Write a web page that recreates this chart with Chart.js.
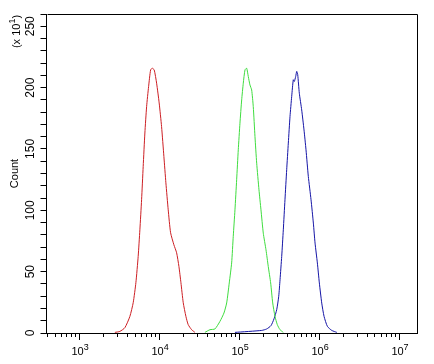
<!DOCTYPE html>
<html>
<head>
<meta charset="utf-8">
<script src="https://cdn.jsdelivr.net/npm/chart.js@4/dist/chart.umd.min.js"></script>
<style>
  html, body { margin: 0; padding: 0; background: #fff; }
  canvas { display: block; }
</style>
</head>
<body>
<canvas id="chart" width="434" height="364"></canvas>
<script>
// fluorescence intensity (x) and count / 10 (y) for each histogram
const redX = [2800, 3230, 3730, 4310, 4745, 5125, 5475, 5750, 6040, 6325, 6640, 6980, 7390, 7830, 8200, 8690, 9310, 10020, 10740, 11480, 12160, 13000, 13930, 15310, 16560, 17700, 18750, 20040, 21640, 23120, 25510, 28070];
const redY = [0.5, 1.3, 4.3, 13.5, 24.7, 41, 62.4, 84.1, 108.6, 135.7, 163, 184.5, 200.8, 214.4, 215.8, 214.4, 203.6, 187.5, 168.2, 143.8, 122.4, 100.4, 81.7, 71.9, 65.4, 54.2, 41, 24.7, 13.5, 6.8, 2.7, 0.5];

const greenX = [37410, 43250, 49900, 57680, 64740, 69980, 75380, 80760, 84580, 88860, 93290, 97740, 102600, 107800, 112900, 118600, 124500, 130400, 136800, 143700, 150500, 158100, 166100, 177400, 187900, 200800, 217100, 231800, 248400, 263400, 281400, 300800, 325100, 357300];
const greenY = [0.5, 2.7, 3.3, 9.5, 16.3, 24.5, 40.8, 57.1, 78.8, 100.4, 124.9, 149.3, 171, 190, 203.6, 214.4, 215.8, 209, 202.2, 198.1, 184.5, 160.1, 138.4, 116.7, 100.4, 81.4, 67.8, 54.2, 40.8, 24.5, 13.5, 6.8, 2.7, 0.5];

const blueX = [88860, 191900, 221500, 250600, 273400, 295600, 313300, 325300, 341400, 357500, 375000, 394000, 413000, 433600, 455100, 476600, 490700, 510700, 525800, 541300, 566900, 607000, 648800, 687200, 734600, 794200, 849100, 891600, 953100, 1009000, 1081000, 1156000, 1272000, 1443000, 1668000];
const blueY = [0.5, 2.1, 3.3, 6.0, 11.5, 19.0, 29.9, 43.4, 62.4, 84.1, 108.6, 133.1, 154.8, 176.5, 192.8, 206.4, 205.0, 209.1, 213.2, 210.5, 195.4, 181.8, 165.5, 149.3, 127.6, 108.6, 89.6, 73.3, 57.1, 40.8, 24.4, 13.5, 5.4, 2.1, 0.5];

const xMajorTicks = [1e3, 1e4, 1e5, 1e6, 1e7];
const xMajorExp = ["3", "4", "5", "6", "7"];
const yLabelStep = 50;

const X_MIN = Math.pow(10, 2.592);
const X_MAX = Math.pow(10, 7.225);

const toPoints = (xs, ys) => xs.map((x, i) => ({ x, y: ys[i] }));

const FONT = "'Liberation Sans', Arial, sans-serif";

function buildXTicks() {
  const vals = [];
  for (let d = 2; d <= 7; d++) {
    for (let m = 1; m <= 9; m++) {
      const v = m * Math.pow(10, d);
      if (v >= X_MIN && v <= X_MAX) vals.push(v);
    }
  }
  return vals.map((v) => ({ value: v }));
}

// "10" followed by a raised exponent, centred on cx
function drawPower(ctx, cx, baseY, exp, pre, post) {
  ctx.font = "11px " + FONT;
  const wPre = ctx.measureText(pre).width;
  const wPost = ctx.measureText(post).width;
  ctx.font = "9px " + FONT;
  const wExp = ctx.measureText(exp).width;
  let x = cx - (wPre + wExp + wPost) / 2;
  ctx.textAlign = "left";
  ctx.textBaseline = "alphabetic";
  ctx.font = "11px " + FONT;
  ctx.fillText(pre, x, baseY);
  x += wPre;
  ctx.font = "9px " + FONT;
  ctx.fillText(exp, x, baseY - 5);
  x += wExp;
  if (post) {
    ctx.font = "11px " + FONT;
    ctx.fillText(post, x, baseY);
  }
}

const framePlugin = {
  id: "frame",
  afterDraw(chart) {
    const { ctx, chartArea: a, scales } = chart;
    ctx.save();
    ctx.strokeStyle = "#000";
    ctx.fillStyle = "#000";
    ctx.lineWidth = 1;
    ctx.beginPath();
    ctx.moveTo(Math.round(a.left) + 0.5, Math.round(a.top) + 0.5);
    ctx.lineTo(Math.round(a.right) + 0.5, Math.round(a.top) + 0.5);
    ctx.lineTo(Math.round(a.right) + 0.5, Math.round(a.bottom) + 0.5);
    ctx.stroke();
    // longer marks and labels for decades
    const xs = scales.x;
    ctx.beginPath();
    xMajorTicks.forEach((v) => {
      const px = Math.round(xs.getPixelForValue(v)) + 0.5;
      ctx.moveTo(px, a.bottom);
      ctx.lineTo(px, a.bottom + 7);
    });
    ctx.stroke();
    xMajorTicks.forEach((v, i) => {
      drawPower(ctx, xs.getPixelForValue(v) + 1, a.bottom + 22, xMajorExp[i], "10", "");
    });
    // multiplier above the axis title
    ctx.translate(19.5, 31.5);
    ctx.rotate(-Math.PI / 2);
    drawPower(ctx, 0, 0, "1", "(x 10", ")");
    ctx.restore();
  },
};

new Chart(document.getElementById("chart"), {
  type: "line",
  data: {
    datasets: [
      { data: toPoints(redX, redY), borderColor: "#cc1f24" },
      { data: toPoints(greenX, greenY), borderColor: "#3fdc3f" },
      { data: toPoints(blueX, blueY), borderColor: "#1515a6" },
    ],
  },
  options: {
    responsive: false,
    animation: false,
    devicePixelRatio: 1,
    layout: { padding: { top: 14, right: 17, bottom: 0, left: 0 } },
    elements: {
      line: { borderWidth: 1, tension: 0.2 },
      point: { radius: 0 },
    },
    plugins: {
      legend: { display: false },
      tooltip: { enabled: false },
    },
    scales: {
      x: {
        type: "logarithmic",
        min: X_MIN,
        max: X_MAX,
        afterBuildTicks: (s) => { s.ticks = buildXTicks(); },
        afterFit: (s) => { s.height = 31; },
        grid: { drawOnChartArea: false, tickLength: 4, color: "#000" },
        border: { color: "#000" },
        ticks: { display: false, autoSkip: false },
      },
      y: {
        min: 0,
        max: 260,
        afterFit: (s) => { s.width = 46.5; },
        grid: { drawOnChartArea: false, tickLength: 6, color: "#000" },
        border: { color: "#000" },
        title: {
          display: true,
          text: "Count",
          color: "#000",
          font: { size: 11, family: FONT },
          padding: { top: 8, bottom: 0 },
        },
        ticks: {
          stepSize: 10,
          autoSkip: false,
          minRotation: 90,
          maxRotation: 90,
          crossAlign: "center",
          padding: 0,
          color: "#000",
          font: { size: 12, family: FONT },
          callback: (v) => (v % yLabelStep === 0 ? String(v) : ""),
        },
      },
    },
  },
  plugins: [framePlugin],
});
</script>
</body>
</html>
